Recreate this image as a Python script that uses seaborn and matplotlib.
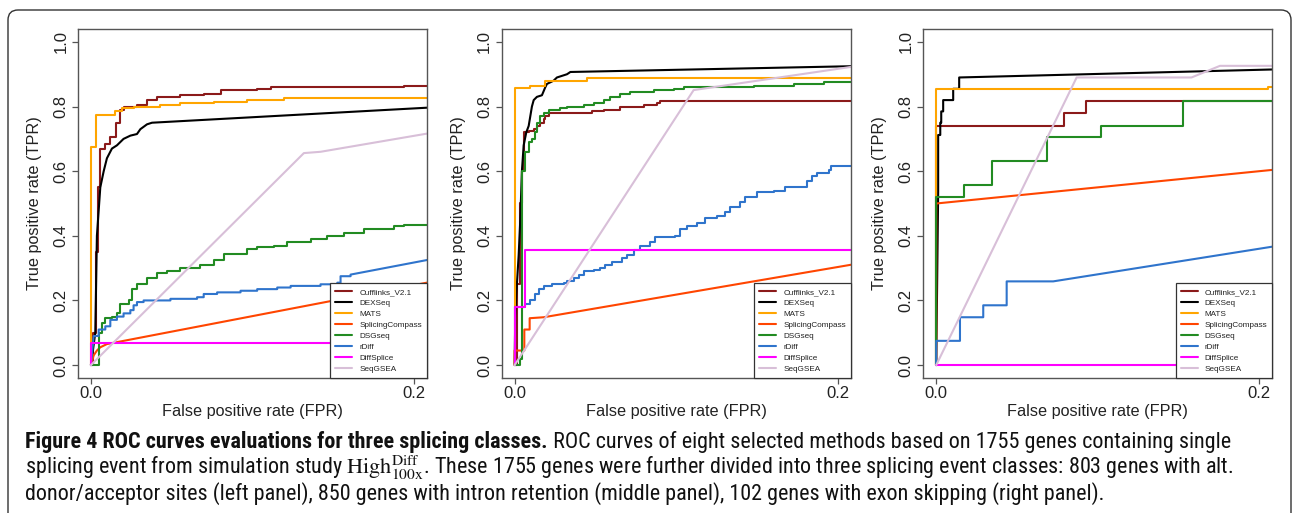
import numpy as np
import pandas as pd
import matplotlib
matplotlib.use("Agg")
import matplotlib.pyplot as plt
import seaborn as sns
from matplotlib.patches import FancyBboxPatch
from matplotlib.lines import Line2D
from matplotlib import font_manager

# ---------------- data ----------------
METHODS = ["Cufflinks_V2.1", "DEXSeq", "MATS", "SplicingCompass", "DSGseq",
           "rDiff", "DiffSplice", "SeqGSEA"]
COLORS = ["#8B1A1A", "#000000", "#FFA500", "#FF4500", "#228B22",
          "#2F74CC", "#FF00FF", "#D8BFD8"]
X_TICKS = [0.0, 0.2]
X_TICK_LABELS = ["0.0", "0.2"]
Y_TICKS = [0.0, 0.2, 0.4, 0.6, 0.8, 1.0]
Y_TICK_LABELS = ["0.0", "0.2", "0.4", "0.6", "0.8", "1.0"]
X_LABEL = "False positive rate (FPR)"
Y_LABEL = "True positive rate (TPR)"

# ---- Panel 1: alt. donor/acceptor sites ----
P1_CUFF_X = [0, 0.0015, 0.003, 0.0045, 0.0058, 0.0089, 0.0116, 0.0157, 0.0182, 0.0202, 0.0285,
             0.0347, 0.0409, 0.0554, 0.0698, 0.0802, 0.1029, 0.1112, 0.1938, 0.21]
P1_CUFF_Y = [0, 0.10, 0.35, 0.55, 0.67, 0.685, 0.705, 0.75, 0.79, 0.80, 0.805,
             0.82, 0.83, 0.835, 0.84, 0.85, 0.855, 0.86, 0.865, 0.865]
P1_DEX_X = [0, 0.0027, 0.0037, 0.0058, 0.0079, 0.0099, 0.013, 0.0161, 0.0202, 0.0244, 0.0285,
            0.0306, 0.0347, 0.0378, 0.21]
P1_DEX_Y = [0, 0.10, 0.40, 0.55, 0.60, 0.64, 0.67, 0.68, 0.70, 0.71, 0.715,
            0.73, 0.745, 0.75, 0.797]
P1_MATS_X = [0, 0, 0.0033, 0.0151, 0.0192, 0.0264, 0.043, 0.0554, 0.076, 0.0967, 0.1194, 0.21]
P1_MATS_Y = [0, 0.675, 0.775, 0.785, 0.795, 0.80, 0.805, 0.81, 0.815, 0.82, 0.825, 0.825]
P1_SPLC_X = [0, 0.0017, 0.0037, 0.0058, 0.0099, 0.1484, 0.21]
P1_SPLC_Y = [0, 0.03, 0.045, 0.055, 0.065, 0.198, 0.257]
P1_DSG_X = [0, 0.0048, 0.0068, 0.0089, 0.013, 0.0161, 0.0182, 0.0233, 0.0254, 0.0285, 0.0347,
            0.0409, 0.0471, 0.0554, 0.0678, 0.076, 0.0822, 0.0967, 0.1029, 0.1132, 0.1215,
            0.136, 0.1463, 0.1566, 0.169, 0.1876, 0.1938, 0.21]
P1_DSG_Y = [0, 0.10, 0.13, 0.145, 0.15, 0.16, 0.19, 0.20, 0.235, 0.25, 0.27,
            0.285, 0.29, 0.30, 0.31, 0.325, 0.345, 0.36, 0.365, 0.37, 0.38,
            0.39, 0.40, 0.41, 0.42, 0.43, 0.435, 0.435]
P1_RDIFF_X = [0, 0.0017, 0.0048, 0.0048, 0.0089, 0.0089, 0.012, 0.012, 0.0161, 0.0161, 0.0202,
              0.0202, 0.0244, 0.0244, 0.0264, 0.0264, 0.0285, 0.0285, 0.0326, 0.0326, 0.0492,
              0.0492, 0.0657, 0.0657, 0.0698, 0.0698, 0.0781, 0.0781, 0.0926, 0.0926, 0.1029,
              0.1029, 0.1153, 0.1153, 0.1236, 0.1236, 0.1421, 0.1421, 0.1525, 0.1525, 0.1545,
              0.1545, 0.1607, 0.1607, 0.21]
P1_RDIFF_Y = [0, 0.09, 0.09, 0.11, 0.11, 0.12, 0.12, 0.14, 0.14, 0.15, 0.15,
              0.16, 0.16, 0.17, 0.17, 0.185, 0.185, 0.195, 0.195, 0.20, 0.20,
              0.205, 0.205, 0.21, 0.21, 0.22, 0.22, 0.225, 0.225, 0.23, 0.23,
              0.235, 0.235, 0.24, 0.24, 0.245, 0.245, 0.25, 0.25, 0.255, 0.255,
              0.275, 0.275, 0.28, 0.327]
P1_DSPL_X = [0, 0, 0.21]
P1_DSPL_Y = [0, 0.067, 0.067]
P1_SEQ_X = [0, 0.1318, 0.1421, 0.21]
P1_SEQ_Y = [0, 0.656, 0.66, 0.718]

# ---- Panel 2: intron retention ----
P2_CUFF_X = [0, 0.0014, 0.0035, 0.0045, 0.006, 0.0087, 0.0118, 0.0138, 0.0159, 0.018, 0.019,
             0.0211, 0.0479, 0.0551, 0.0654, 0.0799, 0.0881, 0.0902, 0.21]
P2_CUFF_Y = [0, 0.25, 0.5, 0.6, 0.72, 0.725, 0.73, 0.74, 0.75, 0.76, 0.77,
             0.78, 0.785, 0.79, 0.80, 0.805, 0.81, 0.817, 0.817]
P2_DEX_X = [0, 0.0004, 0.0014, 0.0025, 0.0035, 0.0045, 0.0056, 0.0072, 0.0087, 0.0097, 0.0107,
            0.0118, 0.0138, 0.0169, 0.019, 0.02, 0.0241, 0.0262, 0.0293, 0.0324, 0.0345, 0.21]
P2_DEX_Y = [0, 0.15, 0.25, 0.34, 0.45, 0.60, 0.68, 0.72, 0.74, 0.77, 0.80,
            0.82, 0.83, 0.835, 0.86, 0.87, 0.88, 0.89, 0.895, 0.90, 0.907, 0.925]
P2_MATS_X = [0, 0, 0.0097, 0.019, 0.0449, 0.21]
P2_MATS_Y = [0, 0.856, 0.863, 0.878, 0.889, 0.889]
P2_SPLC_X = [0, 0, 0.006, 0.006, 0.0093, 0.0093, 0.018, 0.21]
P2_SPLC_Y = [0, 0.045, 0.045, 0.11, 0.11, 0.145, 0.148, 0.312]
P2_DSG_X = [0, 0.0035, 0.0045, 0.0045, 0.0066, 0.0087, 0.0107, 0.0128, 0.0138, 0.0159, 0.018,
            0.0211, 0.0283, 0.0324, 0.0427, 0.0489, 0.0551, 0.0592, 0.0654, 0.0716, 0.0861,
            0.0985, 0.1046, 0.148, 0.1728, 0.1913, 0.21]
P2_DSG_Y = [0, 0.02, 0.03, 0.60, 0.66, 0.69, 0.70, 0.72, 0.75, 0.77, 0.78,
            0.79, 0.795, 0.80, 0.805, 0.81, 0.82, 0.83, 0.84, 0.845, 0.85,
            0.855, 0.86, 0.865, 0.87, 0.875, 0.875]
P2_RDIFF_X = [0, 0, 0.0066, 0.0097, 0.0128, 0.0149, 0.018, 0.0231, 0.0303, 0.0324, 0.0365,
              0.0396, 0.0427, 0.0489, 0.053, 0.0561, 0.0603, 0.0665, 0.0696, 0.0737, 0.0778,
              0.084, 0.0871, 0.0995, 0.1026, 0.1067, 0.1129, 0.1181, 0.1253, 0.1304, 0.1335,
              0.1397, 0.1428, 0.1501, 0.1604, 0.1676, 0.181, 0.1841, 0.1872, 0.1944, 0.1955,
              0.21]
P2_RDIFF_Y = [0, 0.18, 0.19, 0.20, 0.22, 0.235, 0.245, 0.25, 0.255, 0.26, 0.27,
              0.28, 0.29, 0.295, 0.30, 0.31, 0.32, 0.33, 0.34, 0.355, 0.37,
              0.38, 0.395, 0.40, 0.42, 0.43, 0.44, 0.455, 0.46, 0.475, 0.49,
              0.505, 0.52, 0.535, 0.54, 0.55, 0.57, 0.585, 0.595, 0.605, 0.615,
              0.615]
P2_DSPL_X = [0, 0, 0.0062, 0.21]
P2_DSPL_Y = [0, 0.18, 0.357, 0.357]
P2_SEQ_X = [0, 0.1108, 0.21]
P2_SEQ_Y = [0, 0.851, 0.924]

# ---- Panel 3: exon skipping ----
P3_CUFF_X = [0, 0, 0.0791, 0.0925, 0.21]
P3_CUFF_Y = [0, 0.741, 0.779, 0.816, 0.816]
P3_DEX_X = [0, 0.0012, 0.0012, 0.0025, 0.0025, 0.0031, 0.0031, 0.0043, 0.0043, 0.0105, 0.0105,
            0.0142, 0.0142, 0.21]
P3_DEX_Y = [0, 0.537, 0.712, 0.712, 0.75, 0.75, 0.785, 0.785, 0.82, 0.82, 0.855,
            0.855, 0.89, 0.915]
P3_MATS_X = [0, 0, 0.2056, 0.21]
P3_MATS_Y = [0, 0.853, 0.86, 0.86]
P3_SPLC_X = [0, 0, 0.21]
P3_SPLC_Y = [0, 0.50, 0.605]
P3_DSG_X = [0, 0, 0.0173, 0.0343, 0.0683, 0.1018, 0.153, 0.21]
P3_DSG_Y = [0, 0.519, 0.556, 0.63, 0.706, 0.741, 0.816, 0.816]
P3_RDIFF_X = [0, 0, 0.0147, 0.0147, 0.0291, 0.0291, 0.0436, 0.0436, 0.0724, 0.21]
P3_RDIFF_Y = [0, 0.075, 0.075, 0.148, 0.148, 0.185, 0.185, 0.259, 0.259, 0.368]
P3_DSPL_X = [0, 0.21]
P3_DSPL_Y = [0, 0]
P3_SEQ_X = [0, 0.0869, 0.158, 0.1756, 0.21]
P3_SEQ_Y = [0, 0.89, 0.89, 0.926, 0.926]

# methods whose listed points are ROC step corners (drawn as steps)
P1_STEPPED = ["Cufflinks_V2.1", "MATS", "DSGseq", "DiffSplice"]
P2_STEPPED = ["Cufflinks_V2.1", "MATS", "DSGseq", "rDiff", "DiffSplice"]
P3_STEPPED = ["Cufflinks_V2.1", "MATS", "DSGseq", "DiffSplice"]

CAPTION_BOLD = "Figure 4 ROC curves evaluations for three splicing classes."
CAPTION_1 = " ROC curves of eight selected methods based on 1755 genes containing single"
CAPTION_2 = ("splicing event from simulation study $\\mathrm{High}^{\\mathrm{Diff}}_{\\mathrm{100x}}$. "
             "These 1755 genes were further divided into three splicing event classes: 803 genes with alt.")
CAPTION_3 = ("donor/acceptor sites (left panel), 850 genes with intron retention (middle panel), "
             "102 genes with exon skipping (right panel).")

# ---------------- build ----------------
panels = [
    ([(P1_CUFF_X, P1_CUFF_Y), (P1_DEX_X, P1_DEX_Y), (P1_MATS_X, P1_MATS_Y), (P1_SPLC_X, P1_SPLC_Y),
      (P1_DSG_X, P1_DSG_Y), (P1_RDIFF_X, P1_RDIFF_Y), (P1_DSPL_X, P1_DSPL_Y), (P1_SEQ_X, P1_SEQ_Y)],
     P1_STEPPED),
    ([(P2_CUFF_X, P2_CUFF_Y), (P2_DEX_X, P2_DEX_Y), (P2_MATS_X, P2_MATS_Y), (P2_SPLC_X, P2_SPLC_Y),
      (P2_DSG_X, P2_DSG_Y), (P2_RDIFF_X, P2_RDIFF_Y), (P2_DSPL_X, P2_DSPL_Y), (P2_SEQ_X, P2_SEQ_Y)],
     P2_STEPPED),
    ([(P3_CUFF_X, P3_CUFF_Y), (P3_DEX_X, P3_DEX_Y), (P3_MATS_X, P3_MATS_Y), (P3_SPLC_X, P3_SPLC_Y),
      (P3_DSG_X, P3_DSG_Y), (P3_RDIFF_X, P3_RDIFF_Y), (P3_DSPL_X, P3_DSPL_Y), (P3_SEQ_X, P3_SEQ_Y)],
     P3_STEPPED),
]

sns.set_style("white")
plt.rcParams["font.family"] = ["Liberation Sans", "DejaVu Sans"]

W, H = 1294, 513
fig = plt.figure(figsize=(W / 100, H / 100), dpi=100)
fig.patch.set_facecolor("white")

lefts = [78, 501.7, 923.3]
ax_w, ax_top, ax_bot = 349, 29, 378
SPINE = "#555555"
LW = 1.5

for i, (series, stepped) in enumerate(panels):
    ax = fig.add_axes([lefts[i] / W, 1 - ax_bot / H, ax_w / W, (ax_bot - ax_top) / H])
    for m, c, (xs, ys) in zip(METHODS, COLORS, series):
        df = pd.DataFrame({"FPR": xs, "TPR": ys})
        sns.lineplot(data=df, x="FPR", y="TPR", ax=ax, color=c, linewidth=LW,
                     sort=False, estimator=None, legend=False,
                     drawstyle="steps-post" if m in stepped else "default")
    ax.set_xlim(-0.008, 0.208)
    ax.set_ylim(-0.04, 1.04)
    ax.set_xticks(X_TICKS)
    ax.set_xticklabels(X_TICK_LABELS)
    ax.set_yticks(Y_TICKS)
    ax.set_yticklabels(Y_TICK_LABELS, rotation=90, va="center")
    ax.tick_params(axis="both", which="major", direction="out", length=4, width=0.9,
                   color=SPINE, labelsize=12, labelcolor="#222222", pad=2,
                   bottom=True, left=True)
    ax.tick_params(axis="y", pad=3)
    ax.set_xlabel(X_LABEL, fontsize=11.7, color="#222222", labelpad=2)
    ax.set_ylabel(Y_LABEL, fontsize=11.7, color="#222222", labelpad=8)
    for s in ax.spines.values():
        s.set_color(SPINE)
        s.set_linewidth(1.0)
        s.set_visible(True)
    ax.grid(False)
    handles = [Line2D([], [], color=c, lw=LW) for c in COLORS]
    leg = ax.legend(handles, METHODS, loc="lower right", borderaxespad=0, fontsize=5.9,
                    frameon=True, fancybox=False, edgecolor="#333333", framealpha=1,
                    handlelength=2.1, handletextpad=0.85, labelspacing=0.4, borderpad=0.6)
    leg.get_frame().set_linewidth(0.9)
    for t in leg.get_texts():
        t.set_color("#222222")

# outer rounded frame
frame = FancyBboxPatch((0.08, -0.3), 12.83, 5.33, boxstyle="round,pad=0,rounding_size=0.1",
                       transform=fig.dpi_scale_trans, fill=False, edgecolor="#333333",
                       linewidth=1.0, clip_on=False)
fig.add_artist(frame)


# caption font: prefer a condensed sans (the original uses a condensed face)
def pick_caption_font():
    entries = font_manager.fontManager.ttflist
    names = {f.name for f in entries}
    for p in ["Liberation Sans Narrow", "Roboto Condensed", "Open Sans Condensed",
              "Noto Sans Condensed", "DejaVu Sans Condensed"]:
        if p in names:
            return p, "normal"
    for f in entries:
        if str(f.stretch) in ("condensed", "semi-condensed", "extra-condensed") and "CJK" not in f.name:
            return f.name, str(f.stretch)
    return "Liberation Sans", "normal"


cap_name, cap_stretch = pick_caption_font()
cap_fam = [cap_name, "DejaVu Sans"]
x0 = 25
x_end = 1233
base = [448, 474, 500]
fs0 = 12
kw = dict(family=cap_fam, stretch=cap_stretch, va="baseline", ha="left", color="#111111")
tb = fig.text(x0 / W, 1 - base[0] / H, CAPTION_BOLD, fontsize=fs0, fontweight="bold", **kw)
t1 = fig.text(x0 / W, 1 - base[0] / H, CAPTION_1, fontsize=fs0, **kw)
t2 = fig.text(x0 / W, 1 - base[1] / H, CAPTION_2, fontsize=fs0, math_fontfamily="stix", **kw)
t3 = fig.text(x0 / W, 1 - base[2] / H, CAPTION_3, fontsize=fs0, **kw)
r = fig.canvas.get_renderer()
wb = tb.get_window_extent(r).width
w1 = t1.get_window_extent(r).width
fs = fs0 * (x_end - x0) / (wb + w1)
for t in (tb, t1, t2, t3):
    t.set_fontsize(fs)
wb = tb.get_window_extent(r).width
t1.set_x((x0 + wb) / W)

fig.savefig("out.png", dpi=100, facecolor="white")
